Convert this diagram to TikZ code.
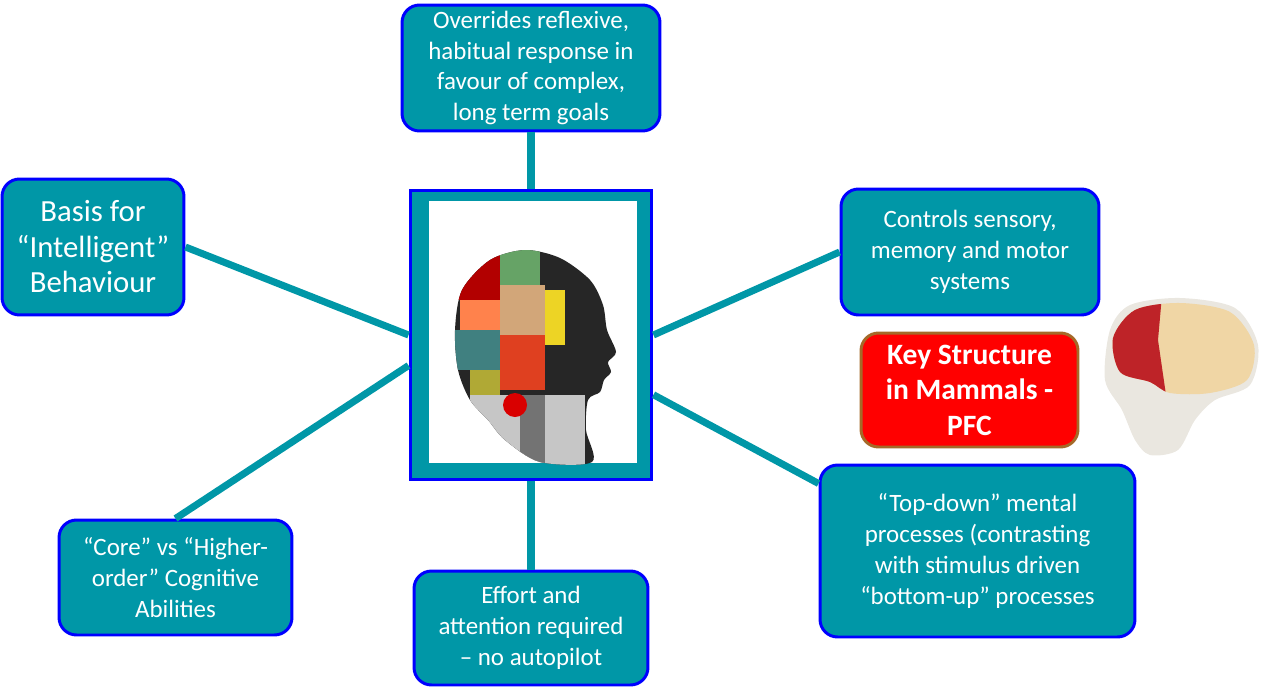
\documentclass[tikz,border=0pt]{standalone}
\usepackage{fontspec}
\setmainfont{Carlito}
\definecolor{pfcteal}{RGB}{0,151,167}
\definecolor{boxblue}{RGB}{0,0,255}
\definecolor{keyred}{RGB}{255,0,0}
\definecolor{keyrim}{RGB}{165,105,40}
\definecolor{skull}{RGB}{234,231,224}
\definecolor{cortex}{RGB}{240,214,165}
\definecolor{lobe}{RGB}{190,35,40}
\tikzset{
  box/.style={draw=boxblue, fill=pfcteal, line width=1.7pt, rounded corners=3.5mm,
    text=white, align=center, inner sep=0pt, font=\fontsize{14.2}{17.6}\selectfont},
  link/.style={draw=pfcteal, line width=4pt},
}
\begin{document}
\begin{tikzpicture}[x=0.02cm, y=-0.02cm]
    \useasboundingbox (0,0) rectangle (1267,690);
    % centre picture frame
    \node (pfc) [draw=boxblue, fill=pfcteal, line width=1.7pt, minimum width=4.84cm,
      minimum height=5.8cm] at (531,335) {};
    \fill[white] (429,201) rectangle (637,463);
    \begin{scope}
      \path[clip] plot[smooth cycle] coordinates {(455,330) (462,290) (490,260) (525,250)
        (560,258) (590,280) (603,305) (607,330) (616,352) (608,362) (611,372) (604,380)
        (600,392) (588,400) (586,430) (592,462) (540,462) (505,440) (488,420) (470,400)
        (458,370)};
      \fill[black!85] (440,240) rectangle (630,470);
      \fill[gray!45] (470,395) rectangle (585,470);
      \fill[black!55] (520,395) rectangle (545,470);
      \fill[red!70!black] (450,245) rectangle (500,300);
      \fill[orange!60!red!70] (460,300) rectangle (505,330);
      \fill[green!40!black!60] (500,245) rectangle (540,285);
      \fill[brown!70] (500,285) rectangle (545,335);
      \fill[yellow!70!brown] (545,290) rectangle (565,345);
      \fill[teal!50!gray] (455,330) rectangle (500,370);
      \fill[brown!50!red] (500,335) rectangle (545,390);
      \fill[olive!70] (470,370) rectangle (500,395);
    \end{scope}
    \fill[red!85!black] (515,405) circle (12);
    % boxes
    \node (over) [box, minimum width=5.16cm, minimum height=2.52cm] at (531,68)
      {Overrides reflexive,\\habitual response in\\favour of complex,\\long term goals};
    \node (basis) [box, minimum width=3.64cm, minimum height=2.72cm,
      font=\fontsize{17.5}{20.2}\selectfont] at (93,247)
      {Basis for\\“Intelligent”\\Behaviour};
    \node (core) [box, minimum width=4.66cm, minimum height=2.3cm] at (175.5,577.5)
      {“Core” vs “Higher-\\order” Cognitive\\Abilities};
    \node (effort) [box, minimum width=4.68cm, minimum height=2.28cm] at (531,628)
      {Effort and\\attention required\\– no autopilot};
    \node (ctrl) [box, minimum width=5.16cm, minimum height=2.52cm] at (970,252)
      {Controls sensory,\\memory and motor\\systems};
    \node (topdown) [box, minimum width=6.3cm, minimum height=3.44cm] at (977.5,551)
      {“Top-down” mental\\processes (contrasting\\with stimulus driven\\“bottom-up” processes};
    \node (key) [box, draw=keyrim, fill=keyred, minimum width=4.34cm, minimum height=2.28cm,
      font=\fontsize{16.8}{20.2}\selectfont\bfseries] at (969.5,390)
      {Key Structure\\in Mammals -\\PFC};
    % links
    \draw[link] (over) -- (pfc);
    \draw[link] (effort) -- (pfc);
    \draw[link] (basis.east) -- (pfc.west);
    \draw[link] (core.north) -- (pfc.194);
    \draw[link] (ctrl.west) -- (pfc.east);
    \draw[link] (topdown.157) -- (pfc.-26);
    % skull and brain
    \fill[skull] plot[smooth cycle] coordinates {(1110,330) (1130,305) (1180,298) (1235,308)
      (1258,345) (1250,385) (1215,400) (1195,420) (1178,450) (1150,455) (1135,440)
      (1122,410) (1105,380)};
    \begin{scope}
      \path[clip] plot[smooth cycle] coordinates {(1113,338) (1135,310) (1180,303)
        (1230,312) (1254,345) (1247,380) (1210,393) (1170,393) (1150,382) (1120,372)};
      \fill[cortex] (1100,295) rectangle (1260,400);
      \fill[lobe] (1100,295) -- (1162,295) -- (1158,340) -- (1166,395) -- (1100,395) -- cycle;
    \end{scope}
\end{tikzpicture}
\end{document}
